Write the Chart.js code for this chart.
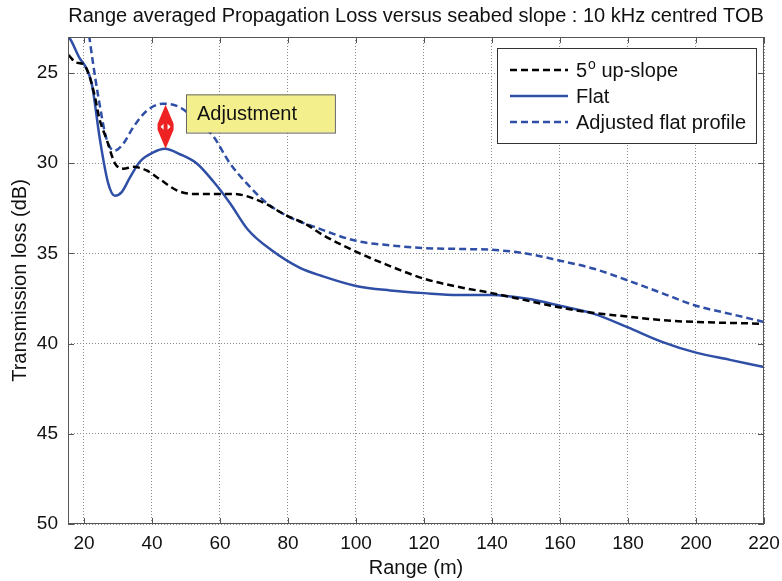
<!DOCTYPE html>
<html>
<head>
<meta charset="utf-8">
<script src="https://cdn.jsdelivr.net/npm/chart.js@4.4.1/dist/chart.umd.min.js"></script>
<style>
  html, body { margin: 0; padding: 0; background: #fff; }
  canvas { display: block; }
</style>
</head>
<body>
<canvas id="lossChart" width="782" height="581"></canvas>
<script>
// values (range in m, transmission loss in dB)

var rangeUpslope = [15.5, 16.4, 17.4, 19.8, 21.3, 23.2, 24.5, 26.7, 29.1, 31.6, 34.5, 38.4, 42.4, 47.3, 52.2, 58, 63.9, 71.8, 79.6, 85.5, 90, 100, 110, 120, 130, 140, 150, 160, 170, 180, 190, 200, 210, 220];
var lossUpslope = [24.0, 24.2, 24.4, 24.5, 25.0, 26.3, 27.5, 28.7, 30.0, 30.3, 30.2, 30.4, 30.9, 31.5, 31.7, 31.7, 31.7, 32.1, 32.9, 33.4, 33.95, 34.9, 35.7, 36.4, 36.85, 37.2, 37.6, 38.0, 38.3, 38.5, 38.7, 38.8, 38.85, 38.9];

var rangeFlat = [15.3, 16.5, 18.8, 20.3, 22.3, 24.7, 27.1, 29.1, 31.1, 33.5, 36.5, 40.4, 43.8, 48.2, 53.1, 58, 62.9, 68.3, 75, 83.5, 90, 100, 110, 120, 130, 140, 150, 160, 170, 180, 190, 200, 210, 220];
var lossFlat = [22.9, 23.3, 24.2, 24.6, 25.6, 28.7, 31.1, 31.8, 31.6, 30.8, 29.9, 29.4, 29.2, 29.5, 30.0, 31.0, 32.2, 33.7, 34.8, 35.8, 36.25, 36.8, 37.05, 37.2, 37.3, 37.3, 37.5, 37.9, 38.35, 39.1, 39.9, 40.5, 40.9, 41.3];

var rangeAdjusted = [21.5, 22.7, 24.2, 26.7, 29.1, 31.6, 34.5, 38.4, 43.3, 48.2, 53.5, 58, 62.9, 67.8, 73.7, 80.6, 87.4, 100, 110, 120, 130, 140, 150, 160, 170, 180, 190, 200, 210, 220];
var lossAdjusted = [22.9, 24.5, 26.3, 28.7, 29.3, 28.9, 28.0, 27.1, 26.7, 26.9, 27.7, 28.5, 30.0, 31.1, 32.2, 33.0, 33.5, 34.3, 34.55, 34.7, 34.75, 34.8, 35.0, 35.4, 35.85, 36.5, 37.2, 37.9, 38.35, 38.8];

var xTicks = [20, 40, 60, 80, 100, 120, 140, 160, 180, 200, 220];
var yTicks = [25, 30, 35, 40, 45, 50];

// the adjustment arrow, in data units
var adjustRange = 44;
var adjustFrom = 26.75;
var adjustTo = 29.2;
var adjustLabel = "Adjustment";

var titleText = "Range averaged Propagation Loss versus seabed slope : 10 kHz centred TOB";
var FONT = "'Liberation Sans', Arial, Helvetica, sans-serif";

function points(xs, ys) {
    var out = [];
    for (var i = 0; i < xs.length; i++) out.push({ x: xs[i], y: ys[i] });
    return out;
}

var extras = {
    id: "extras",
    afterDatasetsDraw: function (chart) {
        var ctx = chart.ctx;
        var a = chart.chartArea;
        var xs = chart.scales.x, ys = chart.scales.y;
        ctx.save();

        // frame + inward ticks
        ctx.strokeStyle = "#555";
        ctx.lineWidth = 1;
        ctx.setLineDash([]);
        ctx.strokeRect(a.left + 0.5, a.top + 0.5, a.right - a.left - 1, a.bottom - a.top - 1);
        ctx.beginPath();
        xTicks.forEach(function (t) {
            var px = Math.round(xs.getPixelForValue(t)) + 0.5;
            ctx.moveTo(px, a.bottom); ctx.lineTo(px, a.bottom - 6);
            ctx.moveTo(px, a.top); ctx.lineTo(px, a.top + 6);
        });
        yTicks.forEach(function (t) {
            var py = Math.round(ys.getPixelForValue(t)) + 0.5;
            ctx.moveTo(a.left, py); ctx.lineTo(a.left + 6, py);
            ctx.moveTo(a.right, py); ctx.lineTo(a.right - 6, py);
        });
        ctx.stroke();

        // red double arrow
        var ax = xs.getPixelForValue(adjustRange);
        var top = ys.getPixelForValue(adjustFrom);
        var bot = ys.getPixelForValue(adjustTo);
        var mid = (top + bot) / 2;
        ctx.fillStyle = "#ee2222";
        ctx.beginPath();
        ctx.moveTo(ax, top);
        ctx.lineTo(ax + 8, mid - 3);
        ctx.lineTo(ax + 8, mid + 3);
        ctx.lineTo(ax, bot);
        ctx.lineTo(ax - 8, mid + 3);
        ctx.lineTo(ax - 8, mid - 3);
        ctx.closePath();
        ctx.fill();
        ctx.fillStyle = "#fff";
        ctx.beginPath();
        ctx.moveTo(ax - 5, mid); ctx.lineTo(ax - 2, mid - 3); ctx.lineTo(ax - 2, mid + 3); ctx.closePath();
        ctx.moveTo(ax + 5, mid); ctx.lineTo(ax + 2, mid - 3); ctx.lineTo(ax + 2, mid + 3); ctx.closePath();
        ctx.fill();

        // label box
        var bx = xs.getPixelForValue(50), by = ys.getPixelForValue(26.18);
        var bw = xs.getPixelForValue(93.8) - bx, bh = ys.getPixelForValue(28.3) - by;
        ctx.fillStyle = "#f3ef8c";
        ctx.fillRect(bx, by, bw, bh);
        ctx.strokeStyle = "#666";
        ctx.strokeRect(bx + 0.5, by + 0.5, bw, bh);
        ctx.fillStyle = "#111";
        ctx.font = "20px " + FONT;
        ctx.textBaseline = "middle";
        ctx.textAlign = "left";
        ctx.fillText(adjustLabel, bx + 11, by + bh / 2 + 1);

        // legend
        var lx = a.right - 267, ly = a.top + 11, lw = 259, lh = 95;
        ctx.fillStyle = "#fff";
        ctx.fillRect(lx, ly, lw, lh);
        ctx.strokeStyle = "#333";
        ctx.lineWidth = 1;
        ctx.strokeRect(lx + 0.5, ly + 0.5, lw, lh);
        chart.data.datasets.forEach(function (ds, i) {
            var yy = ly + 22 + i * 26;
            ctx.strokeStyle = ds.borderColor;
            ctx.lineWidth = ds.borderWidth;
            ctx.setLineDash(ds.borderDash || []);
            ctx.beginPath();
            ctx.moveTo(lx + 13, yy); ctx.lineTo(lx + 71, yy);
            ctx.stroke();
            ctx.setLineDash([]);
            ctx.fillStyle = "#111";
            ctx.font = "20px " + FONT;
            ctx.textBaseline = "middle";
            var tx = lx + 79;
            if (i === 0) {
                ctx.fillText("5", tx, yy + 1);
                var w5 = ctx.measureText("5").width;
                ctx.font = "14px " + FONT;
                ctx.fillText("o", tx + w5 + 1, yy - 5);
                var wo = ctx.measureText("o").width;
                ctx.font = "20px " + FONT;
                ctx.fillText(" up-slope", tx + w5 + wo + 1, yy + 1);
            } else {
                ctx.fillText(ds.label, tx, yy + 1);
            }
        });

        // titles
        ctx.fillStyle = "#111";
        ctx.font = "20px " + FONT;
        ctx.textAlign = "center";
        ctx.textBaseline = "middle";
        var cx = (a.left + a.right) / 2;
        ctx.fillText(titleText, cx, 16);
        ctx.fillText("Range (m)", cx, 568);
        ctx.save();
        ctx.translate(20, (a.top + a.bottom) / 2);
        ctx.rotate(-Math.PI / 2);
        ctx.fillText("Transmission loss (dB)", 0, 0);
        ctx.restore();

        ctx.restore();
    }
};

var canvas = document.getElementById("lossChart");
var lossChart = new Chart(canvas, {
    type: "line",
    data: {
        datasets: [
            {
                label: "5\u00b0 up-slope",
                data: points(rangeUpslope, lossUpslope),
                borderColor: "#000",
                borderWidth: 2.5,
                borderDash: [7, 4],
                pointRadius: 0,
                fill: false,
                cubicInterpolationMode: "monotone"
            },
            {
                label: "Flat",
                data: points(rangeFlat, lossFlat),
                borderColor: "#2f4fa6",
                borderWidth: 2.5,
                pointRadius: 0,
                fill: false,
                cubicInterpolationMode: "monotone"
            },
            {
                label: "Adjusted flat profile",
                data: points(rangeAdjusted, lossAdjusted),
                borderColor: "#2f4fa6",
                borderWidth: 2.5,
                borderDash: [7, 4],
                pointRadius: 0,
                fill: false,
                cubicInterpolationMode: "monotone"
            }
        ]
    },
    options: {
        responsive: false,
        animation: false,
        devicePixelRatio: 1,
        layout: { padding: { top: 37, right: 18, left: 0, bottom: 0 } },
        plugins: {
            legend: { display: false },
            title: { display: false },
            tooltip: { enabled: false }
        },
        scales: {
            x: {
                type: "linear",
                min: 15.3,
                max: 220,
                afterBuildTicks: function (s) { s.ticks = xTicks.map(function (v) { return { value: v }; }); },
                afterFit: function (s) { s.height = 57; s.paddingLeft = 0; s.paddingRight = 0; },
                grid: { color: "#8a8a8a", lineWidth: 1, drawTicks: false },
                border: { display: false, dash: [1, 2] },
                ticks: { padding: 8, color: "#111", font: { family: FONT, size: 19 }, maxRotation: 0 }
            },
            y: {
                type: "linear",
                reverse: true,
                min: 23,
                max: 50,
                afterBuildTicks: function (s) { s.ticks = yTicks.map(function (v) { return { value: v }; }); },
                afterFit: function (s) { s.width = 68; s.paddingTop = 0; s.paddingBottom = 0; },
                grid: { color: "#8a8a8a", lineWidth: 1, drawTicks: false },
                border: { display: false, dash: [1, 2] },
                ticks: { padding: 10, color: "#111", font: { family: FONT, size: 19 } }
            }
        }
    },
    plugins: [extras]
});
</script>
</body>
</html>
